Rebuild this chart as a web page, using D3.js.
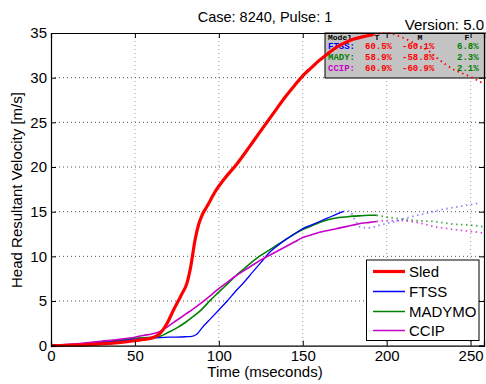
<!DOCTYPE html>
<html>
<head>
<meta charset="utf-8">
<script src="https://cdn.jsdelivr.net/npm/d3@7/dist/d3.min.js"></script>
<style>
  body { margin: 0; background: #fff; }
  svg { display: block; font-family: "Liberation Sans", Arial, sans-serif; }
</style>
</head>
<body>
<div id="chart"></div>
<script>
// ---- data ----
var sledTime = [0,10,20,30,40,50,55,60,63,66,70,73,78,81,83,86,88,90,93,98,103,111,118,124,129,134,139,145,150,155,159,165,170,175,180,186,192];
var sledVel  = [0,0.05,0.1,0.2,0.35,0.55,0.7,0.85,1.1,1.6,2.8,4.0,5.8,7.0,8.6,12.0,13.6,14.6,15.6,17.3,18.6,20.4,22.2,23.8,25.1,26.4,27.7,29.1,30.2,31.1,31.8,32.7,33.4,33.9,34.3,34.6,34.8];
var sledExtTime = [192,200,208,215,220,225,230,235,240,245,251,257];
var sledExtVel  = [34.8,35.0,34.6,34.0,33.5,33.0,32.2,31.5,30.9,30.5,30.0,29.4];

var ftssTime = [0,10,20,30,40,50,60,70,80,84,87,90,95,100,105,110,115,120,125,130,135,140,145,150,155,160,165,170,174];
var ftssVel  = [0,0.1,0.2,0.35,0.5,0.7,0.85,0.95,1.0,1.05,1.3,2.0,3.0,4.0,5.0,6.1,7.1,8.2,9.3,10.4,11.2,11.9,12.5,13.1,13.5,13.9,14.3,14.7,15.0];
var ftssExtTime = [174,178,181,185,190,196,205,214,223,232,244,256];
var ftssExtVel  = [15.0,15.1,14.1,13.2,13.2,13.5,13.9,14.4,14.8,15.2,15.6,16.0];

var madyTime = [0,10,20,30,40,50,60,65,70,75,80,85,90,95,100,105,110,115,120,125,130,135,140,145,150,155,160,165,170,175,180,185,190,194];
var madyVel  = [0,0.1,0.25,0.45,0.6,0.8,0.95,1.05,1.5,2.0,2.6,3.3,4.1,5.1,6.0,6.9,7.8,8.6,9.4,10.1,10.7,11.3,11.9,12.5,13.0,13.4,13.8,14.1,14.3,14.4,14.5,14.55,14.6,14.6];
var madyExtTime = [194,200,208,218,228,240,250,258];
var madyExtVel  = [14.6,14.4,14.2,14.0,13.9,13.6,13.5,13.3];

var ccipTime = [0,10,20,30,40,50,55,60,65,70,75,80,85,90,95,100,105,110,115,120,125,130,135,140,145,150,155,160,165,170,175,180,185,190,194];
var ccipVel  = [0,0.15,0.3,0.5,0.7,0.95,1.15,1.3,1.6,2.2,2.85,3.5,4.15,4.85,5.6,6.4,7.1,7.8,8.4,9.0,9.6,10.1,10.6,11.1,11.6,12.1,12.4,12.7,12.9,13.1,13.3,13.5,13.7,13.8,13.9];
var ccipExtTime = [194,200,208,218,228,240,250,258];
var ccipExtVel  = [13.9,14.0,14.0,13.8,13.35,13.0,12.8,12.6];

var xTicks = [0,50,100,150,200,250];
var yTicks = [0,5,10,15,20,25,30,35];

var legendNames = ['Sled','FTSS','MADYMO','CCIP'];
var legendColors = ['#ff0000','#0000ff','#008000','#c800c8'];

var tableHeader = ['Model','T','M','F'];
var tableModels = ['FTSS:','MADY:','CCIP:'];
var tableT = ['60.5%','58.9%','60.9%'];
var tableM = ['-60.1%','-58.8%','-60.9%'];
var tableF = ['6.8%','2.3%','2.1%'];

// ---- layout ----
var W = 486, H = 384;
var pLeft = 51, pRight = 484, pTop = 33, pBottom = 345.7;

var svg = d3.select('#chart').append('svg')
    .attr('width', W)
    .attr('height', H);

var x = d3.scaleLinear().domain([0, 258]).range([pLeft, pRight]);
var y = d3.scaleLinear().domain([0, 35]).range([pBottom, pTop]);

function zip(t, v){
    return t.map(function(d, i){ return [d, v[i]]; });
}

// grid (dotted)
svg.append('g').selectAll('line')
    .data(xTicks.filter(function(d){ return d > 0; }))
    .enter().append('line')
    .attr('x1', function(d){ return x(d); })
    .attr('x2', function(d){ return x(d); })
    .attr('y1', pTop).attr('y2', pBottom)
    .attr('stroke', '#999').attr('stroke-width', 1)
    .attr('stroke-dasharray', '1,3');
svg.append('g').selectAll('line')
    .data(yTicks.filter(function(d){ return d > 0 && d < 35; }))
    .enter().append('line')
    .attr('x1', pLeft).attr('x2', pRight)
    .attr('y1', function(d){ return y(d); })
    .attr('y2', function(d){ return y(d); })
    .attr('stroke', '#555').attr('stroke-width', 1)
    .attr('stroke-dasharray', '1,3');

// annotation table box (under the lines)
var tbl = svg.append('g');
tbl.append('rect')
    .attr('x', 325).attr('y', pTop)
    .attr('width', 170).attr('height', 45)
    .attr('fill', '#c4c4c4')
    .attr('stroke', '#000').attr('stroke-width', 1);

var mono = '"Liberation Mono", "DejaVu Sans Mono", monospace';
var hdrX = [328, 377, 420, 467];
tbl.selectAll('text.hdr')
    .data(tableHeader)
    .enter().append('text')
    .attr('class', 'hdr')
    .attr('x', function(d, i){ return hdrX[i]; })
    .attr('y', 39.5)
    .attr('text-anchor', function(d, i){ return i === 0 ? 'start' : 'middle'; })
    .style('font-family', mono).style('font-size', '8px').style('font-weight', 'bold')
    .attr('fill', '#000')
    .text(function(d){ return d; });

var rowY = [48.5, 59.5, 70.5];
tableModels.forEach(function(m, i){
    tbl.append('text').attr('x', 328).attr('y', rowY[i])
        .style('font-family', mono).style('font-size', '9px').style('font-weight', 'bold')
        .attr('fill', legendColors[i + 1]).text(m);
    tbl.append('text').attr('x', 365).attr('y', rowY[i])
        .style('font-family', mono).style('font-size', '9px').style('font-weight', 'bold')
        .attr('fill', '#ff0000').text(tableT[i]);
    tbl.append('text').attr('x', 402).attr('y', rowY[i])
        .style('font-family', mono).style('font-size', '9px').style('font-weight', 'bold')
        .attr('fill', '#ff0000').text(tableM[i]);
    tbl.append('text').attr('x', 457).attr('y', rowY[i])
        .style('font-family', mono).style('font-size', '9px').style('font-weight', 'bold')
        .attr('fill', '#008000').text(tableF[i]);
});

// curves
var line = d3.line()
    .curve(d3.curveMonotoneX)
    .x(function(d){ return x(d[0]); })
    .y(function(d){ return y(d[1]); });

var plot = svg.append('g');
var ext = [
    {pts: zip(madyExtTime, madyExtVel), color: '#008000', op: 0.7},
    {pts: zip(ccipExtTime, ccipExtVel), color: '#c800c8', op: 0.7},
    {pts: zip(ftssExtTime, ftssExtVel), color: '#0000ff', op: 0.45},
    {pts: zip(sledExtTime, sledExtVel), color: '#ff0000', op: 1}
];
plot.selectAll('path.ext')
    .data(ext)
    .enter().append('path')
    .attr('class', 'ext')
    .attr('d', function(d){ return line(d.pts); })
    .attr('fill', 'none')
    .attr('stroke', function(d){ return d.color; })
    .attr('stroke-opacity', function(d){ return d.op; })
    .attr('stroke-width', 1.8)
    .attr('stroke-dasharray', '1.5,3.5');

var series = [
    {pts: zip(madyTime, madyVel), color: '#008000', w: 1.6},
    {pts: zip(ftssTime, ftssVel), color: '#0000ff', w: 1.3},
    {pts: zip(ccipTime, ccipVel), color: '#c800c8', w: 1.6},
    {pts: zip(sledTime, sledVel), color: '#ff0000', w: 3.2}
];
plot.selectAll('path.main')
    .data(series)
    .enter().append('path')
    .attr('class', 'main')
    .attr('d', function(d){ return line(d.pts); })
    .attr('fill', 'none')
    .attr('stroke', function(d){ return d.color; })
    .attr('stroke-width', function(d){ return d.w; })
    .attr('stroke-linejoin', 'round');

// axes, ticks inward on all four sides
var xAxis = svg.append('g')
    .attr('transform', 'translate(0,' + pBottom + ')')
    .call(d3.axisBottom(x).tickValues(xTicks).tickSize(-5).tickPadding(5).tickFormat(d3.format('d')));
var yAxis = svg.append('g')
    .attr('transform', 'translate(' + pLeft + ',0)')
    .call(d3.axisLeft(y).tickValues(yTicks).tickSize(-5).tickPadding(4).tickFormat(d3.format('d')));
svg.append('g')
    .attr('transform', 'translate(0,' + pTop + ')')
    .call(d3.axisTop(x).tickValues(xTicks).tickSize(-5).tickFormat(''));
svg.append('g')
    .attr('transform', 'translate(' + pRight + ',0)')
    .call(d3.axisRight(y).tickValues(yTicks).tickSize(-5).tickFormat(''));

svg.selectAll('.domain').attr('stroke', '#000').attr('stroke-width', 1.2);
svg.selectAll('.tick line').attr('stroke', '#000');
xAxis.selectAll('text').style('font-size', '15px').style('font-family', '"Liberation Sans", Arial, sans-serif').attr('fill', '#000');
yAxis.selectAll('text').style('font-size', '15px').style('font-family', '"Liberation Sans", Arial, sans-serif').attr('fill', '#000');

// labels
svg.append('text')
    .attr('x', 265).attr('y', 377)
    .attr('text-anchor', 'middle')
    .style('font-size', '15px')
    .text('Time (mseconds)');
svg.append('text')
    .attr('transform', 'translate(22,' + 190 + ') rotate(-90)')
    .attr('text-anchor', 'middle')
    .style('font-size', '15px')
    .text('Head Resultant Velocity [m/s]');

svg.append('text')
    .attr('x', 265).attr('y', 21.5)
    .attr('text-anchor', 'middle')
    .style('font-size', '14.5px')
    .text('Case: 8240, Pulse: 1');
svg.append('text')
    .attr('x', 484).attr('y', 29.5)
    .attr('text-anchor', 'end')
    .style('font-size', '15px')
    .text('Version: 5.0');

// legend
var lg = svg.append('g');
lg.append('rect')
    .attr('x', 366.5).attr('y', 260)
    .attr('width', 112.5).attr('height', 80.5)
    .attr('fill', '#fff')
    .attr('stroke', '#000').attr('stroke-width', 1);
var legendY = [271.5, 291.5, 311.5, 330.5];
var legendW = [3.2, 1.5, 1.5, 1.5];
lg.selectAll('line.key')
    .data(legendNames)
    .enter().append('line')
    .attr('class', 'key')
    .attr('x1', 373).attr('x2', 405)
    .attr('y1', function(d, i){ return legendY[i]; })
    .attr('y2', function(d, i){ return legendY[i]; })
    .attr('stroke', function(d, i){ return legendColors[i]; })
    .attr('stroke-width', function(d, i){ return legendW[i]; });
lg.selectAll('text.key')
    .data(legendNames)
    .enter().append('text')
    .attr('class', 'key')
    .attr('x', 409)
    .attr('y', function(d, i){ return legendY[i] + 5.5; })
    .style('font-size', '15px')
    .text(function(d){ return d; });
</script>
</body>
</html>
